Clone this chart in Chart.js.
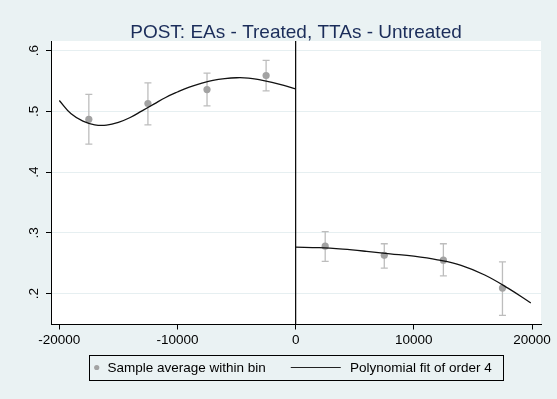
<!DOCTYPE html>
<html>
<head>
<meta charset="utf-8">
<script src="https://cdn.jsdelivr.net/npm/chart.js@4/dist/chart.umd.min.js"></script>
<style>
  body { margin: 0; background: #eaf2f3; }
  canvas { display: block; }
</style>
</head>
<body>
<canvas id="rdplot" width="557" height="399"></canvas>
<script>
// ---- data ----
var chartTitle = "POST: EAs - Treated, TTAs - Untreated";
var legendLabels = ["Sample average within bin", "Polynomial fit of order 4"];

// bin averages with their confidence bars
var binX    = [-17500, -12500, -7500, -2500, 2500, 7500, 12500, 17500];
var binMean = [0.487, 0.513, 0.536, 0.559, 0.278, 0.263, 0.255, 0.209];
var binLo   = [0.446, 0.478, 0.509, 0.534, 0.253, 0.242, 0.229, 0.164];
var binHi   = [0.528, 0.547, 0.563, 0.584, 0.302, 0.282, 0.282, 0.252];

// fitted curve, left of the cutoff
var fitLeftX = [-20000, -19000, -18000, -17000, -16000, -15000, -14000, -13000, -12000, -11000,
                -10000, -9000, -8000, -7000, -6000, -5000, -4000, -3000, -2000, -1000, 0];
var fitLeftY = [0.518, 0.496, 0.484, 0.478, 0.4775, 0.482, 0.490, 0.501, 0.512, 0.523,
                0.532, 0.540, 0.546, 0.551, 0.554, 0.5555, 0.555, 0.552, 0.548, 0.543, 0.537];

// fitted curve, right of the cutoff
var fitRightX = [0, 2000, 4000, 6000, 8000, 10000, 12000, 14000, 16000, 18000, 19900];
var fitRightY = [0.2765, 0.2755, 0.273, 0.2695, 0.2655, 0.2615, 0.2555, 0.2465, 0.2305, 0.2085, 0.1845];

var cutoff = 0;

// axes
var xTickVals   = [-20000, -10000, 0, 10000, 20000];
var xTickLabels = ["-20000", "-10000", "0", "10000", "20000"];
var yTickVals   = [0.2, 0.3, 0.4, 0.5, 0.6];
var yTickLabels = [".2", ".3", ".4", ".5", ".6"];
var xRange = [-20702, 20761];
var yRange = [0.149, 0.616];

// ---- look ----
var FONT = '"Liberation Sans", Arial, sans-serif';
var BG = "#eaf2f3";
var DOT = "#a3a3a3";
var BAR = "#bdbdbd";

function pts(xs, ys) {
    return xs.map(function (x, i) { return {x: x, y: ys[i]}; });
}

// backgrounds: outer region + white plot region, title over the plot region
var backdrop = {
    id: "backdrop",
    beforeDraw: function (chart) {
        var ctx = chart.ctx, a = chart.chartArea;
        ctx.save();
        ctx.fillStyle = BG;
        ctx.fillRect(0, 0, chart.width, chart.height);
        ctx.fillStyle = "#ffffff";
        ctx.fillRect(a.left, a.top, a.right - a.left, a.bottom - a.top);
        ctx.fillStyle = "#1b2d5a";
        ctx.font = "19px " + FONT;
        ctx.textAlign = "center";
        ctx.textBaseline = "alphabetic";
        ctx.fillText(chartTitle, (a.left + a.right) / 2, 37.5);
        ctx.restore();
    }
};

// confidence bars under the bin points
var errorBars = {
    id: "errorBars",
    beforeDatasetsDraw: function (chart) {
        var ctx = chart.ctx, xs = chart.scales.x, ys = chart.scales.y;
        ctx.save();
        ctx.strokeStyle = BAR;
        ctx.lineWidth = 1.3;
        for (var i = 0; i < binX.length; i++) {
            var px = xs.getPixelForValue(binX[i]);
            var top = ys.getPixelForValue(binHi[i]);
            var bot = ys.getPixelForValue(binLo[i]);
            ctx.beginPath();
            ctx.moveTo(px, top); ctx.lineTo(px, bot);
            ctx.moveTo(px - 3.5, top); ctx.lineTo(px + 3.5, top);
            ctx.moveTo(px - 3.5, bot); ctx.lineTo(px + 3.5, bot);
            ctx.stroke();
        }
        ctx.restore();
    }
};

// stata-ish framed legend under the plot
var legendBox = {
    id: "legendBox",
    afterDraw: function (chart) {
        var ctx = chart.ctx, a = chart.chartArea;
        ctx.save();
        ctx.font = "13.5px " + FONT;
        var w1 = ctx.measureText(legendLabels[0]).width;
        var w2 = ctx.measureText(legendLabels[1]).width;
        var boxW = 7.6 + 10.7 + w1 + 25 + 50 + 9.3 + w2 + 11;
        var left = (a.left + a.right) / 2 - boxW / 2;
        var top = 355, h = 25, mid = top + h / 2;
        ctx.strokeStyle = "#000";
        ctx.lineWidth = 1;
        ctx.strokeRect(Math.round(left) + 0.5, top + 0.5, Math.round(boxW), h);

        var x = left + 7.6;
        ctx.fillStyle = DOT;
        ctx.beginPath();
        ctx.arc(x, mid, 2.6, 0, Math.PI * 2);
        ctx.fill();

        ctx.fillStyle = "#000";
        ctx.textBaseline = "middle";
        x += 10.7;
        ctx.fillText(legendLabels[0], x, mid + 1);
        x += w1 + 25;
        ctx.strokeStyle = "#222";
        ctx.lineWidth = 1.1;
        ctx.beginPath();
        ctx.moveTo(x, mid); ctx.lineTo(x + 50, mid);
        ctx.stroke();
        x += 50 + 9.3;
        ctx.fillText(legendLabels[1], x, mid + 1);
        ctx.restore();
    }
};

new Chart(document.getElementById("rdplot"), {
    type: "scatter",
    data: {
        datasets: [
            {
                label: legendLabels[0],
                data: pts(binX, binMean),
                backgroundColor: DOT,
                borderWidth: 0,
                pointRadius: 3.6,
                order: 1
            },
            {
                label: legendLabels[1],
                type: "line",
                data: pts(fitLeftX, fitLeftY),
                borderColor: "#111",
                borderWidth: 1.3,
                pointRadius: 0,
                tension: 0.4,
                fill: false,
                order: 0
            },
            {
                label: "fit right",
                type: "line",
                data: pts(fitRightX, fitRightY),
                borderColor: "#111",
                borderWidth: 1.3,
                pointRadius: 0,
                tension: 0.4,
                fill: false,
                order: 0
            },
            {
                label: "cutoff",
                type: "line",
                data: [{x: cutoff, y: yRange[0]}, {x: cutoff, y: yRange[1]}],
                borderColor: "#000",
                borderWidth: 1.2,
                pointRadius: 0,
                fill: false,
                order: 2
            }
        ]
    },
    options: {
        responsive: false,
        animation: false,
        layout: {padding: {left: 0, right: 16, top: 41, bottom: 0}},
        plugins: {
            legend: {display: false},
            tooltip: {enabled: false},
            title: {display: false}
        },
        scales: {
            x: {
                type: "linear",
                min: xRange[0],
                max: xRange[1],
                afterBuildTicks: function (s) { s.ticks = xTickVals.map(function (v) { return {value: v}; }); },
                afterFit: function (s) { s.height = 74.5; },
                ticks: {
                    color: "#000",
                    font: {family: FONT, size: 13.5},
                    padding: 3,
                    maxRotation: 0,
                    autoSkip: false,
                    callback: function (v, i) { return xTickLabels[i]; }
                },
                grid: {display: true, drawOnChartArea: false, drawTicks: true, tickLength: 5, tickColor: "#000", tickWidth: 1},
                border: {display: true, color: "#000", width: 1}
            },
            y: {
                type: "linear",
                min: yRange[0],
                max: yRange[1],
                afterBuildTicks: function (s) { s.ticks = yTickVals.map(function (v) { return {value: v}; }); },
                afterFit: function (s) { s.width = 51; },
                ticks: {
                    color: "#000",
                    font: {family: FONT, size: 13.5},
                    padding: 6,
                    minRotation: 90,
                    maxRotation: 90,
                    crossAlign: "center",
                    autoSkip: false,
                    callback: function (v, i) { return yTickLabels[i]; }
                },
                grid: {color: "#e6eff1", lineWidth: 1, drawTicks: true, tickLength: 5, tickColor: "#000", tickWidth: 1},
                border: {display: true, color: "#000", width: 1}
            }
        }
    },
    plugins: [backdrop, errorBars, legendBox]
});
</script>
</body>
</html>
